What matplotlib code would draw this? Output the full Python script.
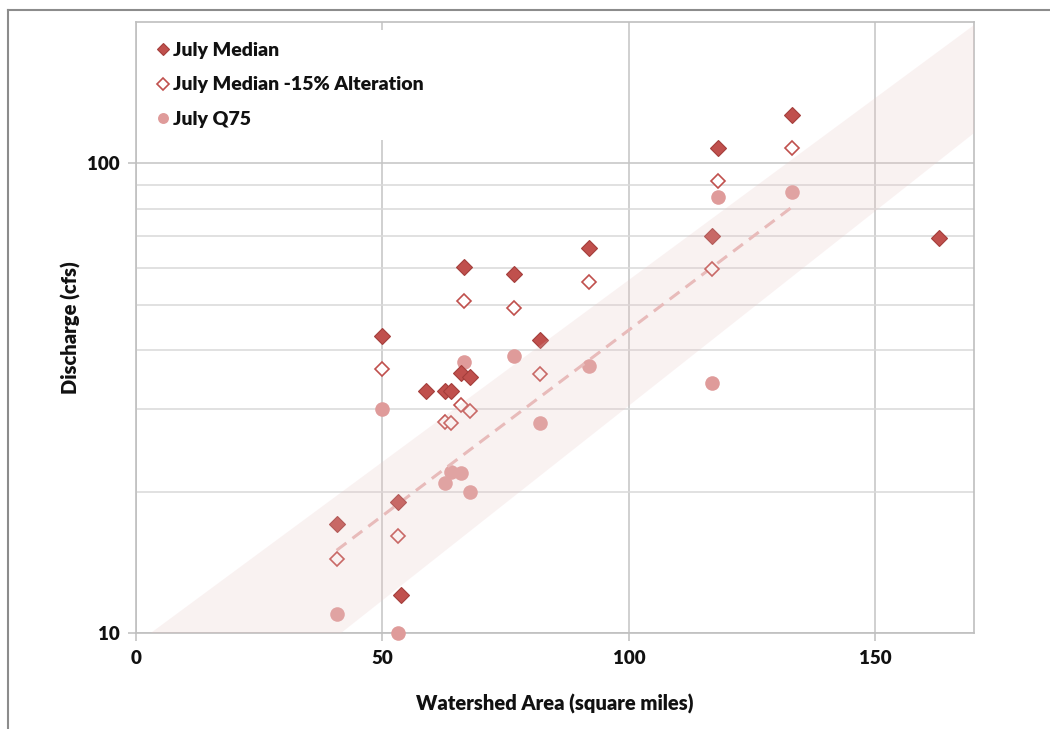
import matplotlib
matplotlib.use("Agg")
import matplotlib.pyplot as plt
from matplotlib.lines import Line2D
from matplotlib.patches import Polygon
from matplotlib.ticker import FixedLocator, NullFormatter, FixedFormatter

plt.rcParams['font.family'] = ['Lato', 'DejaVu Sans']
W = 'heavy'

# ---- data ----
median_x = [40.7, 49.9, 53.1, 53.7, 58.9, 62.6, 64.0, 65.9, 66.6, 67.8,
            76.6, 81.9, 91.8, 116.9, 118.0, 133.0, 163.0]
median_y = [17.1, 43.0, 19.0, 12.05, 32.8, 32.8, 32.8, 35.8, 60.1, 35.0,
            58.0, 42.0, 65.9, 70.0, 107.6, 126.5, 69.2]

alt_x = [40.7, 49.9, 53.1, 62.6, 64.0, 65.9, 66.6, 67.8,
         76.6, 81.9, 91.8, 116.9, 118.0, 133.0]
alt_y = [14.4, 36.4, 16.1, 28.2, 28.0, 30.6, 50.9, 29.7,
         49.2, 35.6, 55.8, 59.5, 91.5, 107.6]

q75_x = [40.7, 49.9, 53.1, 62.6, 64.0, 65.9, 66.6, 67.8,
         76.6, 81.9, 91.8, 116.9, 118.0, 133.0]
q75_y = [11.0, 30.0, 10.0, 20.9, 22.0, 21.9, 37.8, 20.0,
         38.9, 28.0, 37.0, 34.0, 84.7, 86.8]

trend_x = [40.7, 133.0]
trend_y = [15.0, 80.6]

band_upper_x = [3.0, 170.0]
band_upper_y = [10.0, 197.0]
band_lower_x = [41.6, 170.0]
band_lower_y = [10.0, 116.0]

x_ticks = [0, 50, 100, 150]
y_major = [10, 100]
y_minor = [20, 30, 40, 50, 60, 70, 80, 90]

# ---- figure ----
fig = plt.figure(figsize=(10.5, 7.29), dpi=100)
ax = fig.add_axes([136/1050, 1-633/729, (974-136)/1050, (633-22)/729])

ax.set_yscale('log')
ax.set_xlim(0, 170)
ax.set_ylim(10, 200)

red = '#c0504d'
ax.plot(median_x, median_y, ls='none', marker='D', ms=8, mfc=red,
        mec='#a43e3b', mew=0.8, label='July Median', zorder=4, clip_on=False)
ax.plot(alt_x, alt_y, ls='none', marker='D', ms=7.5, mfc='white',
        mec=red, mew=1.2, label='July Median -15% Alteration', zorder=4, clip_on=False)
ax.plot(q75_x, q75_y, ls='none', marker='o', ms=10.5, mfc='#df9b9a',
        mec='#df9b9a', mew=0, label='July Q75', zorder=3, clip_on=False)
ax.plot(trend_x, trend_y, ls=(0, (4, 2.5)), color='#e8b9b8', lw=2.2, zorder=3.5)

band = Polygon([(band_upper_x[0], band_upper_y[0]), (band_upper_x[1], band_upper_y[1]),
                (band_lower_x[1], band_lower_y[1]), (band_lower_x[0], band_lower_y[0])],
               closed=True, facecolor='#e8c4c3', alpha=0.22, edgecolor='none', zorder=5)
ax.add_patch(band)

# ticks and grid
ax.xaxis.set_major_locator(FixedLocator(x_ticks))
ax.yaxis.set_major_locator(FixedLocator(y_major))
ax.yaxis.set_minor_locator(FixedLocator(y_minor))
ax.yaxis.set_major_formatter(FixedFormatter([str(v) for v in y_major]))
ax.yaxis.set_minor_formatter(NullFormatter())
ax.grid(True, which='major', axis='both', color='#c4c4c4', lw=1.1, zorder=0)
ax.grid(True, which='minor', axis='y', color='#d9d9d9', lw=1.1, zorder=0)
ax.set_axisbelow(True)
ax.tick_params(axis='both', which='major', direction='out', length=6, width=1.1,
               color='#bfbfbf', labelsize=13.5, pad=6, labelcolor='#111111')
ax.tick_params(axis='y', which='minor', length=0)
for lab in ax.get_xticklabels() + ax.get_yticklabels():
    lab.set_fontweight(W)
for s in ax.spines.values():
    s.set_color('#bfbfbf')
    s.set_linewidth(1.2)

ax.set_xlabel('Watershed Area (square miles)', fontsize=14.5, fontweight=W,
              labelpad=20, color='#111111')
ax.set_ylabel('Discharge (cfs)', fontsize=14.5, fontweight=W, labelpad=4,
              color='#111111')

leg = ax.legend(loc='upper left', bbox_to_anchor=(-0.002, 0.996), frameon=True,
                facecolor='white', edgecolor='none', framealpha=1.0,
                prop={'weight': W, 'size': 14}, handletextpad=0.0,
                handlelength=1.1, labelspacing=0.9, markerscale=0.75,
                borderpad=0.6, borderaxespad=0.3)
for t in leg.get_texts():
    t.set_color('#111111')
leg.set_zorder(6)

# outer frame lines
fig.add_artist(Line2D([8/1050, 1.0], [1-10/729, 1-10/729], color='#8c8c8c', lw=1.5))
fig.add_artist(Line2D([8/1050, 8/1050], [1-10/729, 0.0], color='#8c8c8c', lw=1.5))

fig.savefig('out.png', dpi=100)
